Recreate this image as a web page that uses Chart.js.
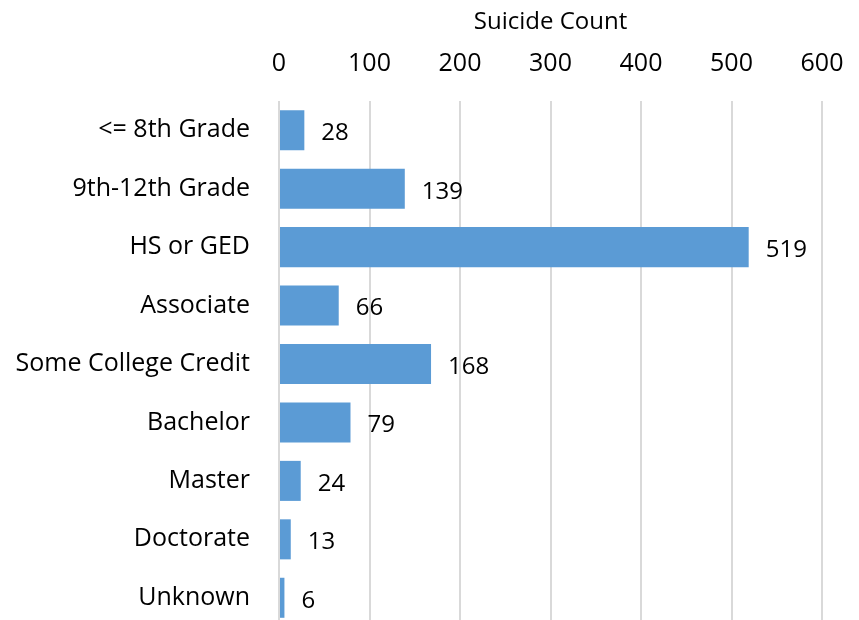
<!DOCTYPE html>
<html lang="en">
<head>
    <meta charset="UTF-8">
    <title>Suicide Count by Education</title>
    <script src="https://cdn.jsdelivr.net/npm/chart.js"></script>
    <style>
        body { margin: 0; background: #fff; overflow: hidden; }
    </style>
</head>
<body>
    <canvas id="chartEdu" width="859" height="627"></canvas>

    <script>
        const categories = ["<= 8th Grade", "9th-12th Grade", "HS or GED", "Associate", "Some College Credit", "Bachelor", "Master", "Doctorate", "Unknown"];
        const counts = [28, 139, 519, 66, 168, 79, 24, 13, 6];
        const xTicks = [0, 100, 200, 300, 400, 500, 600];

        const fontFamily = "'Open Sans', sans-serif";

        // draws the value right of each bar
        const valueLabels = {
            id: "valueLabels",
            afterDatasetsDraw(chart) {
                const ctx = chart.ctx;
                const meta = chart.getDatasetMeta(0);
                ctx.save();
                ctx.font = "24px " + fontFamily;
                ctx.fillStyle = "#000";
                ctx.textAlign = "left";
                ctx.textBaseline = "middle";
                meta.data.forEach((bar, i) => {
                    ctx.fillText(counts[i], bar.x + 17, bar.y + 3);
                });
                ctx.restore();
            }
        };

        new Chart(document.getElementById("chartEdu").getContext("2d"), {
            type: "bar",
            data: {
                labels: categories,
                datasets: [{
                    label: "Suicide Count",
                    data: counts,
                    backgroundColor: "#5B9BD5",
                    categoryPercentage: 1,
                    barPercentage: 0.685
                }]
            },
            options: {
                indexAxis: "y",
                responsive: false,
                animation: false,
                layout: { padding: { left: 0, right: 37, top: 0, bottom: 0 } },
                plugins: {
                    legend: { display: false },
                    tooltip: { enabled: false }
                },
                scales: {
                    x: {
                        position: "top",
                        min: 0,
                        max: 600,
                        afterBuildTicks: scale => { scale.ticks = xTicks.map(v => ({ value: v })); },
                        afterFit: scale => {
                            scale.height = 101;
                            scale.paddingLeft = 0;
                            scale.paddingRight = 0;
                        },
                        grid: { color: "#d9d9d9", lineWidth: 2, drawTicks: false },
                        border: { display: false },
                        ticks: {
                            color: "#000",
                            padding: 22,
                            font: { size: 25, family: fontFamily }
                        },
                        title: {
                            display: true,
                            text: "Suicide Count",
                            color: "#000",
                            padding: { top: 8, bottom: 1 },
                            font: { size: 24, family: fontFamily }
                        }
                    },
                    y: {
                        afterFit: scale => {
                            scale.width = 279;
                            scale.paddingTop = 0;
                            scale.paddingBottom = 0;
                        },
                        grid: { display: false, drawTicks: false },
                        border: { display: false },
                        ticks: {
                            color: "#000",
                            padding: 29,
                            font: { size: 25, family: fontFamily }
                        }
                    }
                }
            },
            plugins: [valueLabels]
        });
    </script>
</body>
</html>
